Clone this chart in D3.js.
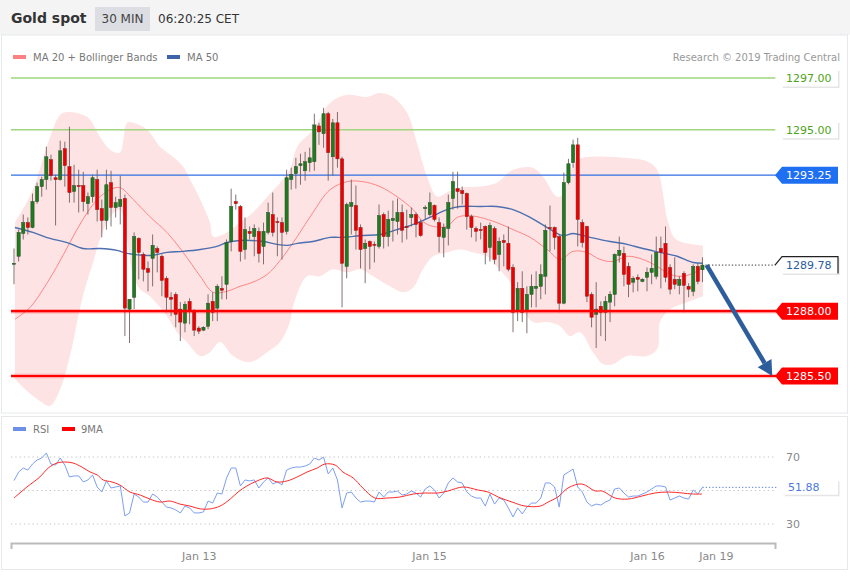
<!DOCTYPE html>
<html><head><meta charset="utf-8">
<script src="https://cdn.jsdelivr.net/npm/d3@7"></script>
<style>body{margin:0;background:#fff}svg{display:block;font-family:"DejaVu Sans",sans-serif}</style>
</head><body><svg id="c" width="850" height="576"></svg>
<script>
// ---------- DATA ----------
const opens = [1289.81,1290.12,1291.0,1291.42,1291.23,1292.23,1292.81,1293.08,1293.85,1293.15,
1293.08,1294.27,1293.58,1292.62,1292.85,1292.85,1292.15,1292.42,1293.08,1291.96,
1291.5,1292.96,1292.0,1292.04,1292.35,1288.08,1288.54,1290.81,1290.19,1289.65,
1290.04,1290.42,1290.12,1289.27,1288.54,1288.65,1288.08,1287.54,1288.38,1288.0,
1287.35,1287.27,1287.42,1288.38,1288.12,1288.88,1289.04,1290.69,1292.23,1292.04,
1290.38,1291.08,1290.88,1291.08,1290.5,1291.04,1291.73,1291.46,1291.42,1291.08,
1293.08,1293.31,1293.62,1293.42,1293.73,1293.77,1295.15,1294.85,1295.62,1293.96,
1295.27,1293.88,1289.73,1292.04,1292.08,1291.23,1290.42,1290.69,1290.58,1290.5,
1291.73,1290.88,1291.5,1291.46,1291.81,1291.27,1291.62,1291.73,1291.42,1291.96,
1291.73,1292.08,1291.42,1290.85,1291.19,1292.35,1292.73,1292.65,1292.54,1291.65,
1291.19,1291.15,1291.27,1290.46,1291.19,1290.19,1290.73,1290.62,1289.69,1288.0,
1288.88,1288.0,1288.65,1288.88,1288.96,1289.35,1291.23,1291.23,1290.88,1288.31,
1292.96,1293.73,1294.42,1291.42,1291.27,1288.65,1287.88,1288.19,1287.96,1288.35,
1288.65,1290.15,1290.23,1289.73,1289.12,1289.31,1289.15,1289.31,1289.5,1289.35,
1290.42,1290.62,1289.69,1289.23,1289.0,1289.46,1288.96,1288.77,1289.73,1289.6];
const highs = [1290.42,1291.15,1291.73,1291.62,1292.54,1292.96,1293.19,1294.35,1294.04,1293.27,
1294.58,1294.54,1295.12,1293.65,1293.46,1293.38,1292.58,1293.27,1293.46,1292.31,
1293.46,1293.42,1292.42,1293.23,1292.5,1288.46,1291.04,1290.85,1290.27,1289.92,
1290.96,1290.5,1290.19,1289.35,1288.73,1288.73,1288.35,1288.38,1288.5,1288.08,
1287.42,1287.42,1288.65,1288.73,1289.04,1289.35,1290.77,1292.73,1292.5,1292.1,
1291.62,1291.27,1291.35,1291.23,1291.42,1292.19,1292.58,1291.62,1291.62,1293.46,
1293.54,1293.92,1294.08,1294.15,1294.31,1295.62,1295.27,1295.85,1295.69,1295.42,
1295.69,1293.96,1292.19,1293.08,1292.85,1291.35,1290.77,1290.73,1290.69,1292.12,
1291.81,1291.88,1292.27,1292.35,1292.12,1291.92,1292.0,1291.81,1291.54,1292.08,
1292.58,1292.12,1291.62,1291.38,1292.5,1293.38,1293.38,1292.81,1292.58,1291.73,
1291.27,1291.42,1291.31,1291.42,1291.27,1290.85,1290.96,1291.27,1289.81,1289.12,
1289.54,1288.96,1289.42,1289.54,1289.81,1291.35,1292.08,1291.27,1290.96,1293.35,
1293.88,1294.62,1294.69,1291.54,1291.3,1288.73,1289.12,1288.38,1288.58,1288.77,
1290.23,1290.88,1290.5,1289.88,1289.35,1289.42,1289.27,1289.69,1290.19,1290.88,
1290.88,1291.27,1289.81,1290.08,1289.35,1289.54,1289.08,1289.81,1289.85,1290.08];
const lows = [1289.04,1289.92,1290.77,1290.96,1291.2,1292.15,1292.42,1292.69,1293.04,1291.31,
1293.04,1292.81,1292.19,1292.19,1291.81,1291.85,1291.73,1292.19,1291.46,1290.85,
1291.15,1291.27,1291.62,1291.35,1287.04,1286.77,1288.08,1289.23,1289.15,1288.77,
1288.96,1289.5,1288.58,1287.96,1287.81,1287.38,1286.85,1287.19,1287.5,1287.04,
1287.12,1287.23,1287.31,1287.62,1287.62,1288.46,1288.46,1290.31,1291.92,1289.92,
1290.0,1290.77,1290.12,1289.88,1289.81,1290.96,1290.88,1290.12,1290.0,1290.96,
1292.69,1292.73,1292.88,1293.04,1293.38,1293.42,1294.42,1294.31,1293.04,1293.23,
1293.54,1288.15,1289.27,1290.96,1290.38,1289.65,1289.08,1289.62,1289.88,1290.42,
1290.42,1290.5,1290.69,1290.96,1290.65,1290.77,1291.27,1290.85,1290.88,1291.54,
1291.65,1291.46,1290.27,1290.08,1290.54,1291.92,1291.96,1292.12,1291.15,1290.85,
1290.69,1290.77,1289.81,1289.92,1289.81,1289.54,1289.73,1289.54,1287.19,1287.62,
1287.58,1287.15,1288.15,1288.15,1288.46,1288.65,1290.31,1290.38,1287.96,1288.27,
1292.9,1293.54,1290.5,1290.46,1288.35,1287.38,1286.58,1287.04,1286.85,1287.58,
1288.19,1289.88,1288.96,1288.54,1288.73,1288.77,1289.12,1288.77,1289.04,1289.23,
1288.88,1289.12,1288.65,1288.85,1288.65,1287.96,1288.54,1288.58,1289.04,1289.12];
const closes = [1289.85,1291.04,1291.42,1291.23,1292.23,1292.81,1293.08,1293.96,1293.23,1293.08,
1294.19,1293.62,1292.58,1292.85,1292.83,1292.23,1292.42,1293.15,1291.92,1291.5,
1292.88,1292.0,1292.19,1292.31,1288.12,1288.46,1290.88,1290.27,1289.62,1289.5,
1290.54,1290.27,1289.19,1288.54,1288.46,1287.88,1287.58,1288.27,1288.0,1287.27,
1287.23,1287.38,1288.31,1287.96,1288.96,1288.81,1290.65,1292.04,1292.15,1290.31,
1291.15,1291.0,1291.19,1290.23,1291.08,1291.81,1291.04,1291.42,1291.04,1293.15,
1293.27,1293.58,1293.69,1293.77,1293.92,1295.19,1294.92,1295.62,1294.12,1295.27,
1293.88,1289.85,1292.12,1292.19,1291.12,1290.38,1290.62,1290.5,1290.56,1291.69,
1290.88,1291.54,1291.58,1291.81,1291.12,1291.23,1291.73,1291.35,1290.92,1292.0,
1292.19,1291.54,1290.88,1291.23,1292.19,1293.0,1292.62,1292.54,1291.65,1291.23,
1291.08,1291.13,1290.27,1291.31,1290.0,1290.69,1290.65,1289.62,1287.96,1288.88,
1287.96,1288.65,1288.96,1288.96,1289.42,1291.12,1291.19,1290.85,1288.31,1292.96,
1293.69,1294.42,1291.54,1290.65,1288.58,1287.77,1288.08,1287.96,1288.38,1288.65,
1290.19,1290.35,1289.42,1289.04,1289.27,1289.23,1289.23,1289.5,1289.65,1290.27,
1290.27,1289.31,1288.85,1289.04,1289.23,1289.0,1288.85,1289.73,1289.15,1289.78];

const ma20Idx = [0.2,3.5,6.3,9.3,12.1,14.9,18,20.8,22.9,25.8,29.4,33.1,36.6,40.3,43.1,46.1,48.9,51.7,54.8,57.6,61.3,64.7,68.4,72.1,75.5,79.2,82.9,86.4,88.5,90.7,93.7,95.9,98.1,100.9,104.5,108,111.7,115.4,118.2,121,124,126.8,129.7,132.7,136.1,139.2,142,144.8,147.8,149.1];
const ma20Val = [1287.69,1288.15,1288.85,1289.73,1290.65,1291.54,1292.31,1292.69,1292.77,1292.31,1291.65,1291.04,1290.27,1289.35,1288.73,1288.77,1288.96,1289.12,1289.42,1289.96,1290.88,1291.81,1292.69,1293.0,1293.0,1292.81,1292.42,1291.92,1291.46,1291.27,1291.27,1291.62,1291.69,1291.62,1291.42,1291.15,1290.85,1290.38,1290.0,1290.31,1290.27,1290.0,1289.92,1290.12,1290.0,1289.73,1289.42,1289.35,1289.54,1289.73];
const ma50Idx = [0.2,4.1,7.8,11.5,14.9,18.6,22.3,24.5,29.4,33.1,36.6,40.3,43.9,46.1,48.9,53.9,56.9,59.1,61.3,64.7,68.4,70.6,75.5,79.2,82.9,86.4,90,93.7,96.5,100.9,104.5,108,111.7,115.4,118.8,121,124,129,132.7,136.1,139.8,143.5,147,149.1];
const ma50Val = [1291.23,1291.04,1290.81,1290.65,1290.42,1290.42,1290.35,1290.23,1290.15,1290.27,1290.31,1290.38,1290.5,1290.65,1290.73,1290.69,1290.58,1290.54,1290.62,1290.69,1290.85,1290.85,1290.92,1290.96,1291.15,1291.35,1291.62,1291.92,1292.04,1292.04,1292.04,1291.92,1291.62,1291.23,1290.92,1291.0,1290.88,1290.69,1290.58,1290.42,1290.27,1290.12,1289.88,1289.85];
const upperIdx = [0.2,4.1,7.1,10,11.5,15.8,18.6,20.8,22.9,24.5,25.8,28.8,31.6,34.4,36.6,38.1,40.3,42.4,43.1,46.1,48.9,51.7,54.8,57.6,59.7,61.3,64.7,68.4,72.1,76.4,79.2,82,85.1,87.2,89.4,91.6,93.7,96.5,100.9,104.5,108,112.3,114.5,117.5,118.8,120.3,122.1,124.7,134.4,137.2,139.2,141.6,143.3,149.1];
const upperVal = [1291.42,1292.69,1294.35,1295.58,1295.69,1295.5,1294.73,1294.23,1294.12,1295.27,1295.27,1295.0,1294.35,1293.96,1293.58,1293.08,1292.31,1291.42,1290.88,1291.04,1291.42,1291.81,1292.42,1292.96,1293.46,1294.35,1295.0,1296.04,1296.35,1296.27,1296.42,1296.27,1295.65,1294.5,1293.19,1292.42,1292.58,1292.77,1292.81,1292.96,1293.46,1293.54,1293.19,1292.42,1292.5,1293.38,1293.85,1293.96,1293.88,1293.77,1293.46,1291.42,1290.77,1290.54];
const lowerIdx = [0.2,2.8,5.6,7.8,10,12.1,14.9,17.1,18.6,20.8,22.9,24.5,25.8,27.3,29.4,33.1,35.3,37.4,40.3,42.4,44.6,47.4,51.1,54.8,57.6,59.7,60.4,63.4,66.2,69,72.1,74.9,77.7,81.4,84.2,86.4,88.5,90.7,93.7,96.5,99.4,102.4,104.5,107.4,109.5,112.3,115.4,118.2,120.3,122.5,125.3,127.5,129.7,132.7,137,139.2,139.8,142,145.7,149.1];
const lowerVal = [1285.38,1284.92,1284.54,1284.35,1285.0,1286.27,1288.58,1289.88,1290.77,1291.65,1291.92,1290.77,1289.35,1288.85,1288.58,1287.81,1287.19,1286.81,1286.27,1286.42,1286.81,1286.27,1286.04,1286.42,1286.81,1287.58,1288.19,1289.35,1289.35,1289.62,1289.5,1289.62,1289.35,1288.96,1288.73,1288.92,1289.62,1290.12,1290.27,1290.38,1290.27,1290.12,1289.73,1289.12,1288.35,1287.58,1287.58,1287.42,1287.04,1287.19,1286.42,1285.96,1285.96,1286.27,1286.27,1286.54,1287.58,1288.08,1288.35,1288.58];

const rsi = [55.9,61.0,63.4,62.2,65.8,68.2,69.4,72.4,65.8,65.2,
69.4,65.2,58.1,58.7,58.7,55.1,56.3,59.3,52.1,49.1,
55.7,51.5,52.1,52.7,34.8,36.6,47.9,46.1,43.1,43.1,
47.9,46.1,43.1,40.1,39.6,38.4,36.6,40.7,39.6,36.6,
36.6,37.2,43.7,42.5,48.5,47.9,57.5,63.4,63.4,52.7,
56.3,55.7,56.3,51.5,55.1,57.5,53.9,55.1,53.3,62.2,
63.4,64.0,64.0,64.6,65.8,69.4,68.2,70.0,59.9,63.4,
56.3,39.6,48.5,49.1,45.5,43.1,43.7,43.7,43.1,49.1,
46.1,49.1,49.1,49.7,47.3,47.9,49.7,48.5,46.1,50.9,
52.7,50.3,45.5,48.5,54.5,57.5,55.1,54.5,49.1,46.7,
45.5,45.5,40.7,47.9,41.9,45.5,44.3,39.6,34.2,39.6,
36.0,40.1,42.5,42.5,45.5,54.5,54.5,52.1,40.1,59.3,
61.0,62.8,52.1,49.1,43.1,40.7,41.9,41.3,43.1,44.3,
50.9,51.5,48.5,46.1,46.7,46.7,47.9,49.1,50.9,52.7,
52.7,52.1,44.3,45.5,46.7,45.5,44.9,50.3,47.9,51.88];
const ma9Idx = [0,2.8,5.6,7.4,9.3,11,12.8,14.7,16.5,18,19.3,21.2,22.9,25.1,27.3,29.4,31.6,33.8,35.9,38.1,40.3,42.4,44.6,46.8,48.5,50.4,52.6,54.8,56.9,59.1,61.3,63.4,65.6,67.3,69.5,71.2,73.4,75.5,78.1,80.7,83.5,86.4,89,91.8,93.9,97.2,100.4,102.6,104.8,107.8,110.6,113.9,115.6,117.7,119.9,122.9,125.8,127.3,130.1,132.9,135.9,138.7,141.6,144.6,146.8,148.9];
const ma9Val = [45.5,52.1,58.1,63.4,66.4,67.0,66.4,64.0,61.0,59.3,56.3,55.1,53.3,49.1,47.3,44.9,43.1,43.7,41.9,40.7,39.0,39.0,40.7,44.9,49.1,52.7,55.7,57.5,55.1,55.7,58.1,61.0,63.4,65.8,65.2,61.0,57.5,51.5,45.5,45.5,46.1,47.9,48.5,48.5,49.7,52.1,50.3,49.1,46.1,43.1,40.7,40.7,43.1,46.1,51.5,53.9,49.7,49.7,45.5,44.9,46.7,48.5,49.1,48.5,47.9,47.9];

const levelVals = [1297.00, 1295.00, 1293.25, 1288.00, 1285.50];
const levelKinds = ["res", "res", "pivot", "sup", "sup"];
const lastPrice = 1289.78;
const targetPrice = 1285.50;
const lastRsi = 51.88;
const rsiGrid = [70, 50, 30];
const rsiTickVals = [70, 30];
const tickIdx = [40, 89.8, 137, 151.9];
const tickLabels = ["Jan 13", "Jan 15", "Jan 16", "Jan 19"];

// ---------- CHART ----------
const svg = d3.select("#c");
const x = d3.scaleLinear().domain([-0.65, 164.7]).range([11, 775]);
const y = d3.scaleLinear().domain([1297, 1285.5]).range([78, 376]);
const yr = d3.scaleLinear().domain([70, 30]).range([457, 524]);
const n = closes.length;

// header
svg.append("rect").attr("width", 850).attr("height", 35).attr("fill", "#f4f4f5");
svg.append("text").attr("x", 11).attr("y", 23).attr("font-size", 14).attr("font-weight", "bold").attr("fill", "#333").text("Gold spot");
svg.append("rect").attr("x", 95).attr("y", 7).attr("width", 55).attr("height", 24).attr("fill", "#dcdee3");
svg.append("text").attr("x", 122.5).attr("y", 23).attr("text-anchor", "middle").attr("font-size", 12).attr("fill", "#444").text("30 MIN");
svg.append("text").attr("x", 158).attr("y", 23).attr("font-size", 12).attr("fill", "#333").text("06:20:25 CET");

// panel frames
svg.append("rect").attr("x", 1.5).attr("y", 35).attr("width", 846).attr("height", 378).attr("fill", "none").attr("stroke", "#e6e8ea");
svg.append("rect").attr("x", 1.5).attr("y", 416.5).attr("width", 846).attr("height", 153).attr("fill", "none").attr("stroke", "#e6e8ea");

// legend
svg.append("rect").attr("x", 13).attr("y", 55).attr("width", 13).attr("height", 4).attr("fill", "#ff8080");
svg.append("text").attr("x", 33).attr("y", 61).attr("font-size", 10).attr("fill", "#777").text("MA 20 + Bollinger Bands");
svg.append("rect").attr("x", 167).attr("y", 55).attr("width", 13).attr("height", 4).attr("fill", "#3c64a6");
svg.append("text").attr("x", 187).attr("y", 61).attr("font-size", 10).attr("fill", "#777").text("MA 50");
svg.append("text").attr("x", 840).attr("y", 61).attr("text-anchor", "end").attr("font-size", 10).attr("fill", "#999").text("Research \u00a9 2019 Trading Central");

// bollinger band
const curve = d3.curveCatmullRom.alpha(0.5);
const pl = d3.line().x(d => x(d[0])).y(d => y(d[1])).curve(curve);
const upPts = upperIdx.map((d, i) => [d, upperVal[i]]);
const loPts = lowerIdx.map((d, i) => [d, lowerVal[i]]).reverse();
svg.append("path").attr("d", pl(upPts) + pl(loPts).replace(/^M/, "L") + "Z").attr("fill", "#fde3e3");

// level lines (non-red)
const levelColor = {res: "#9fd67f", pivot: "#2f6fe4", sup: "#ff0000"};
levelVals.forEach((v, i) => {
  if (levelKinds[i] === "sup") return;
  svg.append("line").attr("x1", 11).attr("x2", 776).attr("y1", y(v)).attr("y2", y(v))
    .attr("stroke", levelColor[levelKinds[i]]).attr("stroke-width", levelKinds[i] === "res" ? 1.5 : 1.3);
});

// MAs
svg.append("path").attr("d", pl(ma20Idx.map((d, i) => [d, ma20Val[i]]))).attr("fill", "none").attr("stroke", "#ff8585").attr("stroke-width", 1);
svg.append("path").attr("d", pl(ma50Idx.map((d, i) => [d, ma50Val[i]]))).attr("fill", "none").attr("stroke", "#4b6fb0").attr("stroke-width", 1.4);

// candles
const bw = (x(1) - x(0)) * 0.7;
const cg = svg.append("g");
d3.range(n).forEach(i => {
  const o = opens[i], c = closes[i], up = c >= o;
  cg.append("line").attr("x1", x(i)).attr("x2", x(i)).attr("y1", y(highs[i])).attr("y2", y(lows[i]))
    .attr("stroke", "#6b5a5a").attr("stroke-opacity", 0.85).attr("stroke-width", 1);
  const top = y(Math.max(o, c)), h = Math.max(1, y(Math.min(o, c)) - top);
  cg.append("rect").attr("x", x(i) - bw / 2).attr("y", top).attr("width", bw).attr("height", h)
    .attr("fill", up ? "#1e7b1e" : "#ee0000").attr("stroke", up ? "#2c4a2c" : "#8a1d1d").attr("stroke-width", 0.5);
});

// red support lines
levelVals.forEach((v, i) => {
  if (levelKinds[i] !== "sup") return;
  svg.append("line").attr("x1", 11).attr("x2", 776).attr("y1", y(v)).attr("y2", y(v)).attr("stroke", "rgba(255,0,0,0.25)").attr("stroke-width", 4.5);
  svg.append("line").attr("x1", 11).attr("x2", 776).attr("y1", y(v)).attr("y2", y(v)).attr("stroke", "#ff0000").attr("stroke-width", 2.2);
});

// last price dotted
svg.append("line").attr("x1", x(n - 1) + 3).attr("x2", 776).attr("y1", y(lastPrice)).attr("y2", y(lastPrice))
  .attr("stroke", "#333").attr("stroke-dasharray", "1.3,2");

// labels
function tagPath(yy, x0, x1, h) {
  return `M${x0},${yy}L${x0 + 7},${yy - h / 2}L${x1},${yy - h / 2}L${x1},${yy + h / 2}L${x0 + 7},${yy + h / 2}Z`;
}
function tag(yy, txt, fill, tcol, shadow, x0 = 775, x1 = 838, h = 17) {
  if (shadow) svg.append("path").attr("d", tagPath(yy + 1.5, x0 + 1.5, x1 + 1.5, h)).attr("fill", "rgba(0,0,0,0.10)");
  svg.append("path").attr("d", tagPath(yy, x0, x1, h)).attr("fill", fill);
  svg.append("text").attr("x", x0 + 11).attr("y", yy + 4).attr("font-size", 11).attr("fill", tcol).text(txt);
}
levelVals.forEach((v, i) => {
  const k = levelKinds[i], t = v.toFixed(2);
  if (k === "res") tag(y(v), t, "#fff", "#4ea31a", true);
  else if (k === "pivot") tag(y(v), t, "#1f6ff2", "#fff", false);
  else tag(y(v), t, "#ff0000", "#fff", false);
});
tag(y(lastPrice), lastPrice.toFixed(2), "#fff", "#2b5b9c", true);
{
  const yy = y(lastPrice);
  svg.append("path").attr("d", `M775,${yy}L782,${yy - 8.5}L838,${yy - 8.5}L838,${yy + 8.5}`).attr("fill", "none").attr("stroke", "#222").attr("stroke-width", 1.2);
}

// arrow
{
  const x0 = x(149.9), y0 = y(lastPrice), x1 = x(164.1), y1 = y(targetPrice);
  const ang = Math.atan2(y1 - y0, x1 - x0), L = 15, W = 8;
  const bx = x1 - L * Math.cos(ang), by = y1 - L * Math.sin(ang);
  svg.append("line").attr("x1", x0).attr("y1", y0).attr("x2", bx).attr("y2", by).attr("stroke", "#2e5d9c").attr("stroke-width", 4.5);
  const px = -Math.sin(ang) * W, py = Math.cos(ang) * W;
  svg.append("path").attr("d", `M${x1},${y1}L${bx + px},${by + py}L${bx - px},${by - py}Z`).attr("fill", "#2e5d9c");
}

// ---------- RSI ----------
svg.append("rect").attr("x", 13).attr("y", 427).attr("width", 13).attr("height", 4).attr("fill", "#6d8fe8");
svg.append("text").attr("x", 33).attr("y", 433).attr("font-size", 10).attr("fill", "#777").text("RSI");
svg.append("rect").attr("x", 62).attr("y", 427).attr("width", 13).attr("height", 4).attr("fill", "#ff0000");
svg.append("text").attr("x", 81).attr("y", 433).attr("font-size", 10).attr("fill", "#777").text("9MA");

rsiGrid.forEach(v => {
  svg.append("line").attr("x1", 11).attr("x2", 775).attr("y1", yr(v)).attr("y2", yr(v))
    .attr("stroke", "#c4c4c4").attr("stroke-dasharray", "1.3,3");
});
rsiTickVals.forEach(v => {
  svg.append("text").attr("x", 786).attr("y", yr(v) + 4).attr("font-size", 11).attr("fill", "#888").text(v);
});
const rl = d3.line().x((d, i) => x(i)).y(d => yr(d));
svg.append("path").attr("d", rl(rsi)).attr("fill", "none").attr("stroke", "#7d9ef0").attr("stroke-width", 1);
const ml = d3.line().x(d => x(d[0])).y(d => yr(d[1])).curve(d3.curveCatmullRom.alpha(0.5));
svg.append("path").attr("d", ml(ma9Idx.map((d, i) => [d, ma9Val[i]]))).attr("fill", "none").attr("stroke", "#ff2a2a").attr("stroke-width", 1);
svg.append("line").attr("x1", x(n - 1)).attr("x2", 778).attr("y1", yr(lastRsi)).attr("y2", yr(lastRsi))
  .attr("stroke", "#5b7fe0").attr("stroke-dasharray", "1.3,2");
tag(yr(lastRsi), lastRsi.toFixed(2), "#fff", "#4d79e0", true, 777, 838, 15);

// x axis
const ax = svg.append("g").attr("transform", "translate(0,543)")
  .call(d3.axisBottom(x).tickValues(tickIdx).tickFormat((d, i) => tickLabels[i]).tickSizeInner(0).tickSizeOuter(6).tickPadding(9));
ax.select(".domain").attr("stroke", "#bbb").attr("stroke-width", 2);
ax.selectAll("text").attr("font-size", 11).attr("fill", "#888").attr("font-family", "DejaVu Sans");
</script></body></html>
